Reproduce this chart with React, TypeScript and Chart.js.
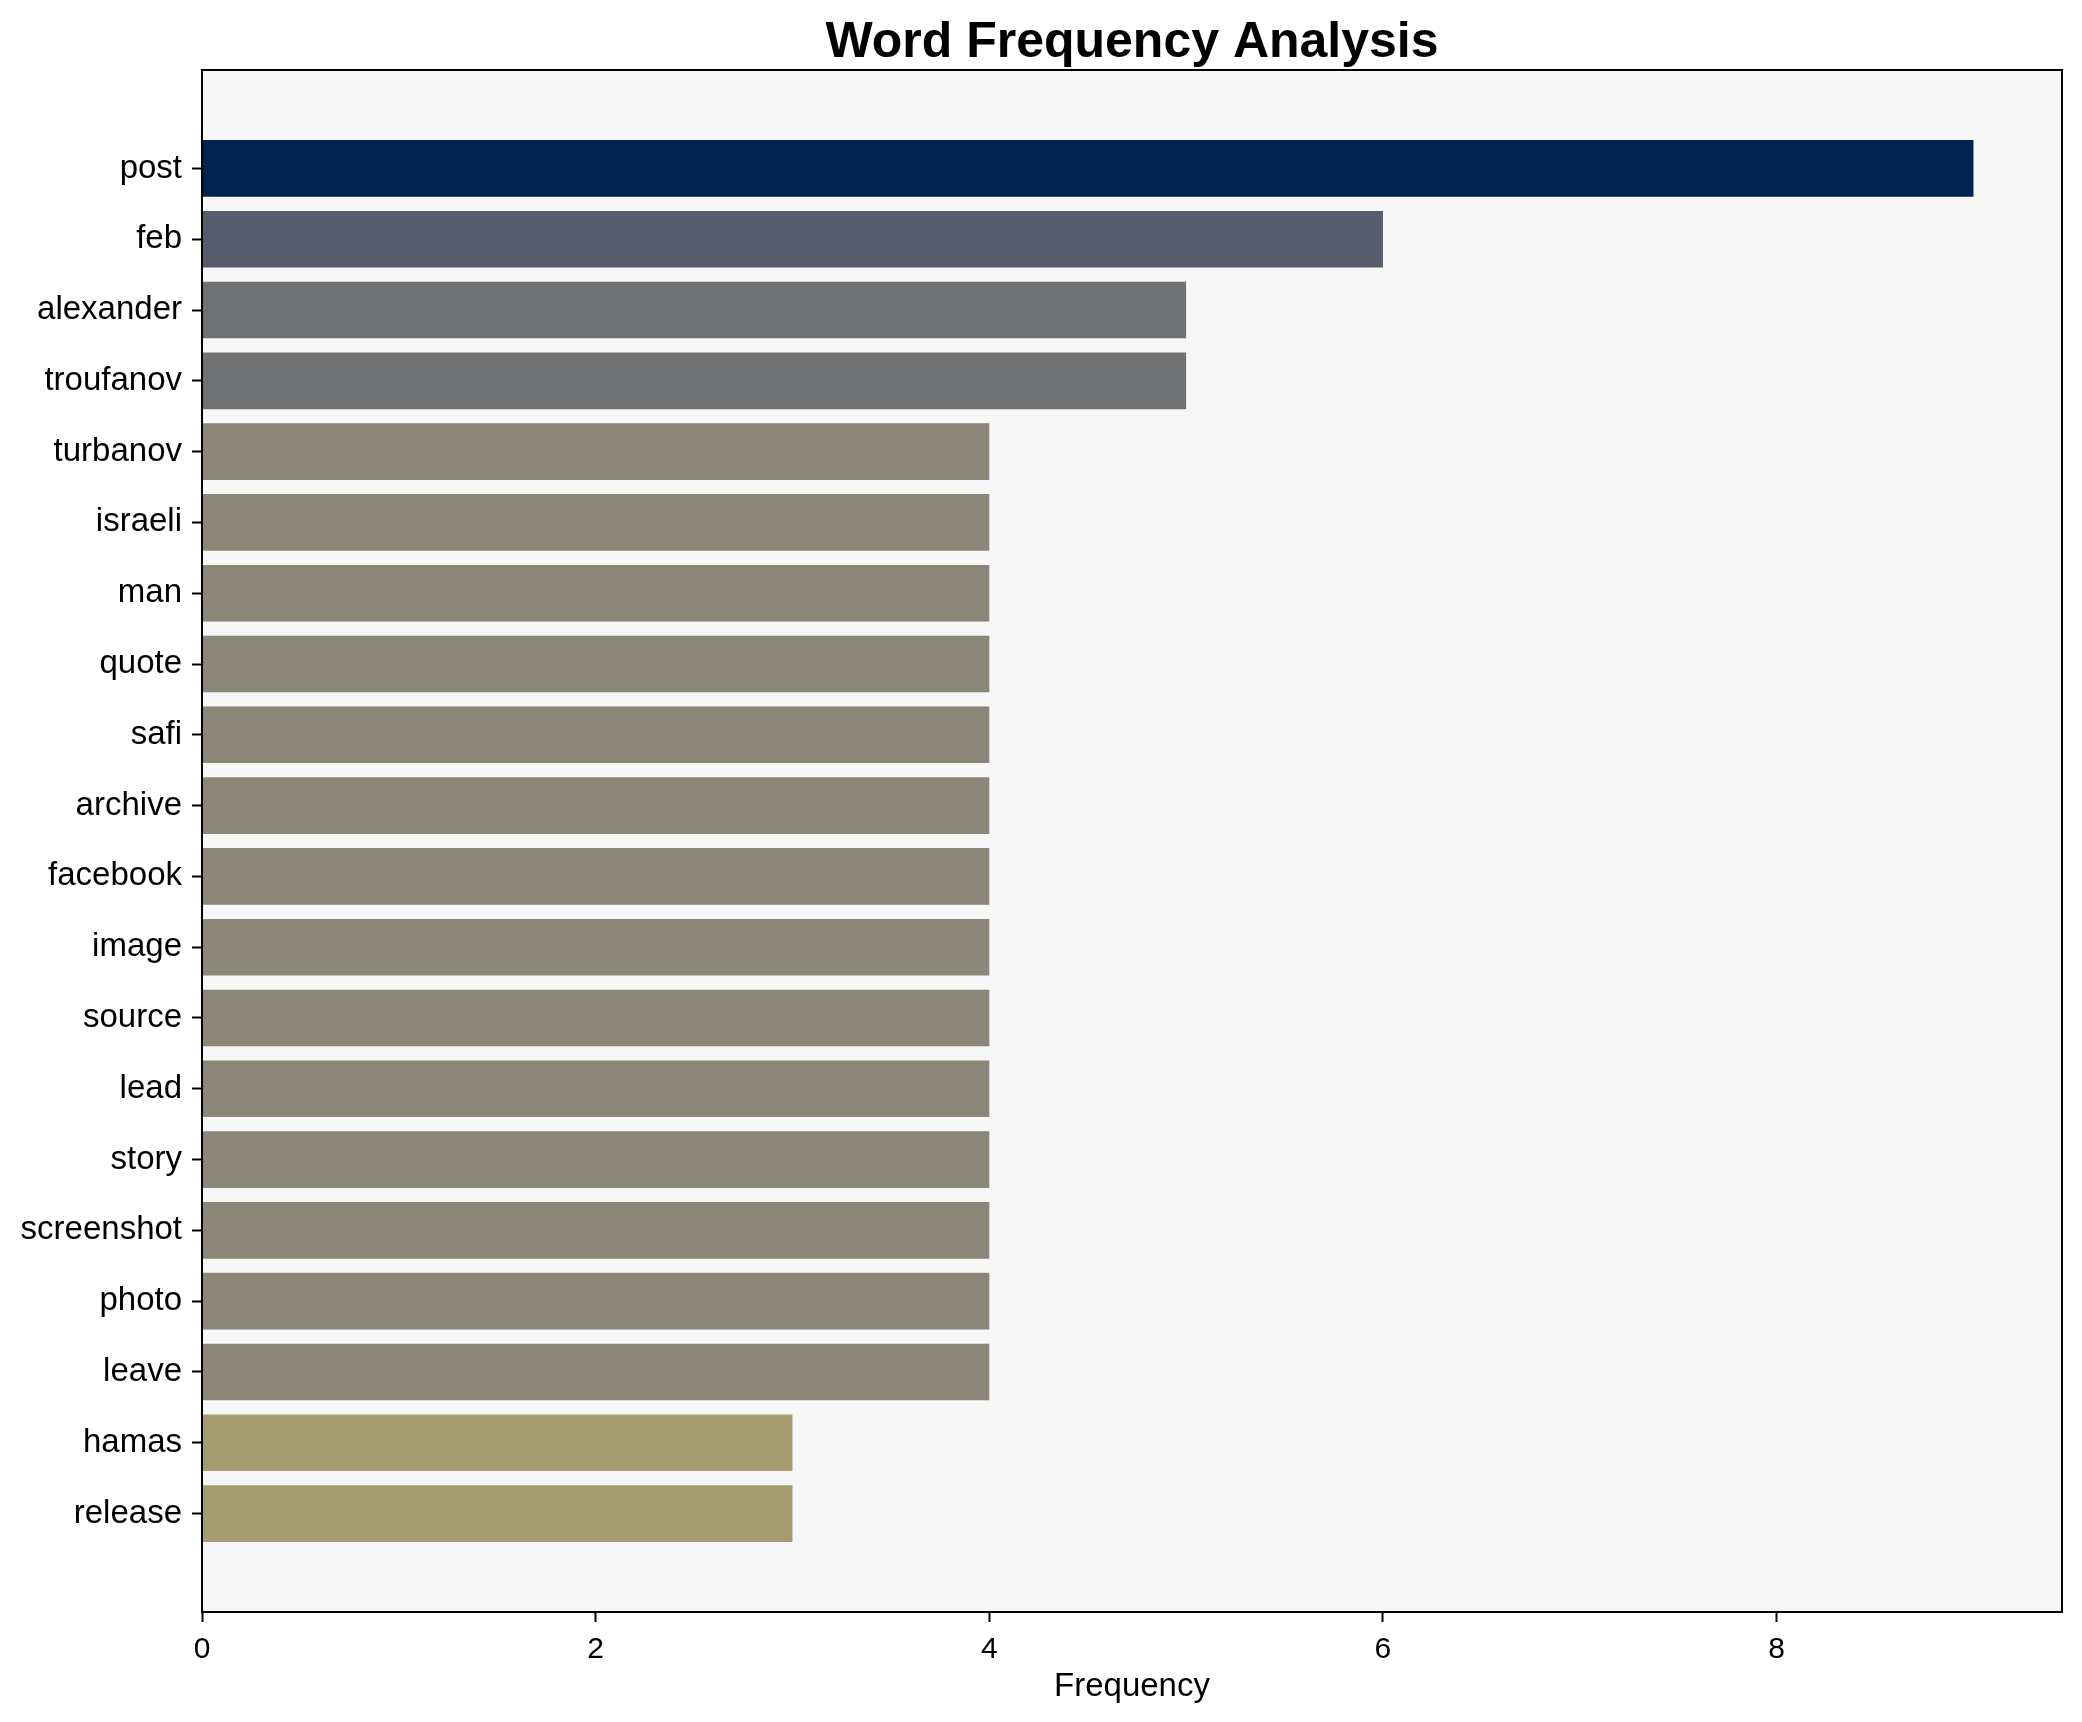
import React, { useEffect, useRef } from "react";
import { Chart, registerables } from "chart.js";

Chart.register(...registerables);

const words = [
  "post", "feb", "alexander", "troufanov", "turbanov", "israeli", "man", "quote", "safi", "archive",
  "facebook", "image", "source", "lead", "story", "screenshot", "photo", "leave", "hamas", "release",
];
const frequencies = [9, 6, 5, 5, 4, 4, 4, 4, 4, 4, 4, 4, 4, 4, 4, 4, 4, 4, 3, 3];
const barColors = [
  "#00224E", "#575C6D", "#707173", "#707173",
  "#8A8779", "#8A8779", "#8A8779", "#8A8779", "#8A8779", "#8A8779", "#8A8779",
  "#8A8779", "#8A8779", "#8A8779", "#8A8779", "#8A8779", "#8A8779", "#8A8779",
  "#A59C71", "#A59C71",
];
const xTickValues = [0, 2, 4, 6, 8];

const FONT = "'Liberation Sans', Arial, Helvetica, sans-serif";

const framePlugin = {
  id: "frame",
  beforeDraw(chart: any) {
    const { ctx, chartArea } = chart;
    ctx.save();
    ctx.fillStyle = "#F7F7F7";
    ctx.fillRect(chartArea.left, chartArea.top, chartArea.right - chartArea.left, chartArea.bottom - chartArea.top);
    ctx.restore();
  },
  afterDraw(chart: any) {
    const { ctx, chartArea } = chart;
    ctx.save();
    ctx.strokeStyle = "#000";
    ctx.lineWidth = 2;
    ctx.strokeRect(chartArea.left, chartArea.top, chartArea.right - chartArea.left, chartArea.bottom - chartArea.top);
    ctx.restore();
  },
};

export default function App() {
  const ref = useRef<HTMLCanvasElement | null>(null);

  useEffect(() => {
    document.body.style.margin = "0";
    const nWords = words.length;
    const lo = -0.4 - 0.05 * (nWords - 1 + 0.8);
    const hi = nWords - 1 + 0.4 + 0.05 * (nWords - 1 + 0.8);
    const xMax = Math.max(...frequencies) * 1.05;

    const chart = new Chart(ref.current as HTMLCanvasElement, {
      type: "bar",
      data: {
        datasets: [
          {
            data: frequencies.map((v, i) => ({ x: v, y: i })),
            backgroundColor: barColors,
            borderWidth: 0,
            barPercentage: 0.8,
            categoryPercentage: 1.0,
          },
        ],
      },
      options: {
        indexAxis: "y",
        animation: false,
        responsive: false,
        devicePixelRatio: 1,
        layout: { padding: { left: 0, right: 20, top: 0, bottom: 0 } },
        plugins: {
          legend: { display: false },
          tooltip: { enabled: false },
          title: {
            display: true,
            fullSize: false,
            text: "Word Frequency Analysis",
            color: "#000",
            font: { family: FONT, size: 50, weight: "bold", lineHeight: 1.0 },
            padding: { top: 18, bottom: 2 },
          },
        },
        scales: {
          x: {
            type: "linear",
            position: "bottom",
            min: 0,
            max: xMax,
            afterBuildTicks: (scale: any) => {
              scale.ticks = xTickValues.map((v) => ({ value: v }));
            },
            afterFit: (scale: any) => {
              scale.height = 110;
            },
            grid: {
              drawOnChartArea: false,
              drawTicks: true,
              tickLength: 10,
              tickColor: "#000",
              tickWidth: 2,
            },
            border: { display: true, color: "#000", width: 2 },
            ticks: {
              color: "#000",
              padding: 10,
              font: { family: FONT, size: 30 },
              maxRotation: 0,
            },
            title: {
              display: true,
              text: "Frequency",
              color: "#000",
              font: { family: FONT, size: 33 },
              padding: { top: 0, bottom: 15 },
            },
          },
          y: {
            type: "linear",
            reverse: true,
            offset: false,
            min: lo,
            max: hi,
            afterBuildTicks: (scale: any) => {
              scale.ticks = words.map((_, i) => ({ value: i }));
            },
            afterFit: (scale: any) => {
              scale.width = 202;
            },
            grid: {
              offset: false,
              drawOnChartArea: false,
              drawTicks: true,
              tickLength: 10,
              tickColor: "#000",
              tickWidth: 2,
            },
            border: { display: true, color: "#000", width: 2 },
            ticks: {
              color: "#000",
              padding: 10,
              autoSkip: false,
              font: { family: FONT, size: 33 },
              callback: (v: any) => words[Math.round(Number(v))] ?? "",
            },
          },
        },
      },
      plugins: [framePlugin],
    } as any);

    return () => chart.destroy();
  }, []);

  return (
    <div style={{ width: 2082, height: 1722, background: "#fff" }}>
      <canvas ref={ref} width={2082} height={1722} style={{ display: "block", width: 2082, height: 1722 }} />
    </div>
  );
}
